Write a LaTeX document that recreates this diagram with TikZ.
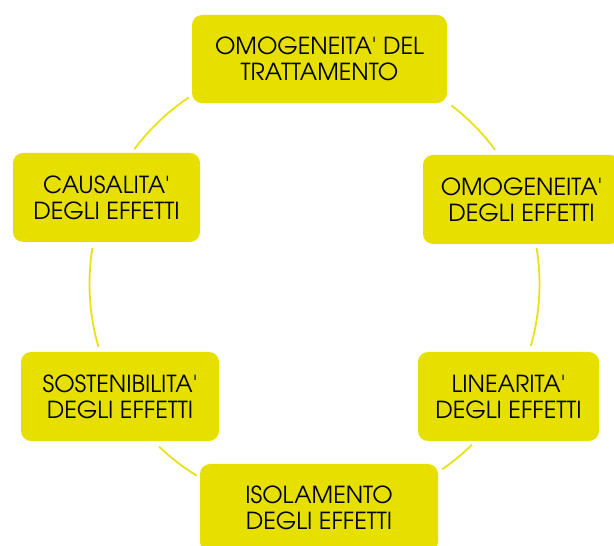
\documentclass[tikz,border=0pt]{standalone}
\usepackage{fontspec}
\setmainfont{TeX Gyre Adventor}[Ligatures=TeXOff]
\definecolor{boxyellow}{RGB}{231,223,0}
\definecolor{arcyellow}{RGB}{233,226,20}
\tikzset{
  card/.style={draw=none, fill=boxyellow, rounded corners=7.5pt, align=center,
    inner sep=0pt, text=black, font=\fontsize{17.6pt}{19.5pt}\selectfont},
  ring/.style={draw=arcyellow, line width=1.35pt}
}
\begin{document}
\begin{tikzpicture}[x=0.75pt,y=0.75pt]
\useasboundingbox (0,0) rectangle (614,546);
\clip (0,0) rectangle (614,546);
\coordinate (c) at (314.5,262);
\node[card, minimum width=255*0.75pt, minimum height=88*0.75pt] (top) at (319.5,487) {OMOGENEITA' DEL\\TRATTAMENTO};
\node[card, minimum width=187*0.75pt, minimum height=89*0.75pt] (caus) at (106.5,348.5) {CAUSALITA'\\DEGLI EFFETTI};
\node[card, minimum width=197*0.75pt, minimum height=89*0.75pt] (omog) at (521.5,346.5) {OMOGENEITA'\\DEGLI EFFETTI};
\node[card, minimum width=198*0.75pt, minimum height=89*0.75pt] (sost) at (120,149.5) {SOSTENIBILITA'\\DEGLI EFFETTI};
\node[card, minimum width=181*0.75pt, minimum height=89*0.75pt] (line) at (508.5,149.5) {LINEARITA'\\DEGLI EFFETTI};
\node[card, minimum width=238*0.75pt, minimum height=88*0.75pt] (isol) at (319,38) {ISOLAMENTO\\DEGLI EFFETTI};
\draw[ring] ([shift={(124:225)}]c) arc[start angle=124, end angle=143.2, radius=225];
\draw[ring] ([shift={(36.6:225)}]c) arc[start angle=36.6, end angle=52.5, radius=225];
\draw[ring] ([shift={(-16:225)}]c) arc[start angle=-16, end angle=9.2, radius=225];
\draw[ring] ([shift={(170.8:225)}]c) arc[start angle=170.8, end angle=196.3, radius=225];
\draw[ring] ([shift={(226.3:225)}]c) arc[start angle=226.3, end angle=238.4, radius=225];
\draw[ring] ([shift={(304.6:225)}]c) arc[start angle=304.6, end angle=314.4, radius=225];
\end{tikzpicture}
\end{document}
